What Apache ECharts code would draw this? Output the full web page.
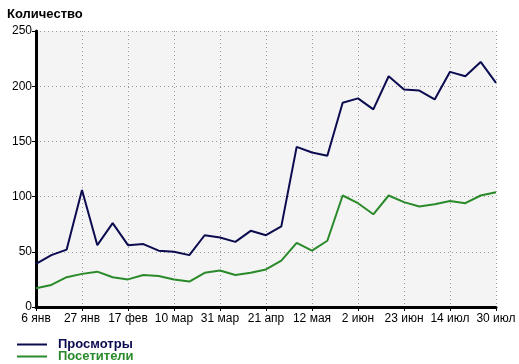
<!DOCTYPE html>
<html><head><meta charset="utf-8">
<script src="https://cdn.jsdelivr.net/npm/echarts@6/dist/echarts.min.js"></script>
<style>html,body{margin:0;padding:0;background:#fff}#c{width:519px;height:364px}</style>
</head><body><div id="c"></div>
<script>
const categories = ['6 янв','13 янв','20 янв','27 янв','3 фев','10 фев','17 фев','24 фев','3 мар','10 мар','17 мар','24 мар','31 мар','7 апр','14 апр','21 апр','28 апр','5 мая','12 мая','19 мая','26 мая','2 июн','9 июн','16 июн','23 июн','30 июн','7 июл','14 июл','21 июл','28 июл','30 июл'];
const views = [39,47,52,106,56,76,56,57,51,50,47,65,63,59,69,65,73,145,140,137,185,189,179,209,197,196,188,213,209,222,203];
const visitors = [17,20,27,30,32,27,25,29,28,25,23,31,33,29,31,34,42,58,51,60,101,94,84,101,95,91,93,96,94,101,104];
const yTicks = {min:0, max:250, interval:50};
const titleText = 'Количество';
const seriesNames = ['Просмотры','Посетители'];
const colors = ['#0b0b4f','#2a8a2a'];

const chart = echarts.init(document.getElementById('c'));
chart.setOption({
  animation:false,
  title:{text:titleText,left:2,top:3,textStyle:{fontFamily:'Liberation Sans',fontWeight:'bold',fontSize:13,color:'#000'}},
  legend:{orient:'vertical',left:17,top:338,height:30,padding:0,itemGap:-1,itemWidth:30,itemHeight:2,icon:'rect',
    data:[{name:seriesNames[0],textStyle:{color:colors[0]}},{name:seriesNames[1],textStyle:{color:colors[1]}}],
    textStyle:{fontFamily:'Liberation Sans',fontWeight:'bold',fontSize:13,padding:[0,0,0,6]}},
  grid:{left:36,right:23,top:31,bottom:57,show:true,backgroundColor:'#f4f4f4',borderWidth:0},
  xAxis:{type:'category',data:categories,boundaryGap:false,
    axisLine:{lineStyle:{color:'#000',width:3}},
    axisTick:{show:true,interval:2,length:4,lineStyle:{color:'#000'}},
    axisLabel:{interval:2,color:'#000',fontFamily:'Liberation Sans',fontSize:12,margin:6,showMaxLabel:true},
    splitLine:{show:true,interval:2,lineStyle:{color:'#999',type:[1,3]}}},
  yAxis:{type:'value',min:yTicks.min,max:yTicks.max,interval:yTicks.interval,
    axisLine:{show:true,lineStyle:{color:'#000',width:3}},
    axisTick:{show:true,length:4,lineStyle:{color:'#000'}},
    axisLabel:{color:'#000',fontFamily:'Liberation Sans',fontSize:12,margin:4},
    splitLine:{show:true,lineStyle:{color:'#999',type:[1,3]}}},
  series:[
    {name:seriesNames[0],type:'line',data:views,symbol:'none',lineStyle:{color:colors[0],width:2},itemStyle:{color:colors[0]}},
    {name:seriesNames[1],type:'line',data:visitors,symbol:'none',lineStyle:{color:colors[1],width:2},itemStyle:{color:colors[1]}}
  ]
});
</script></body></html>
